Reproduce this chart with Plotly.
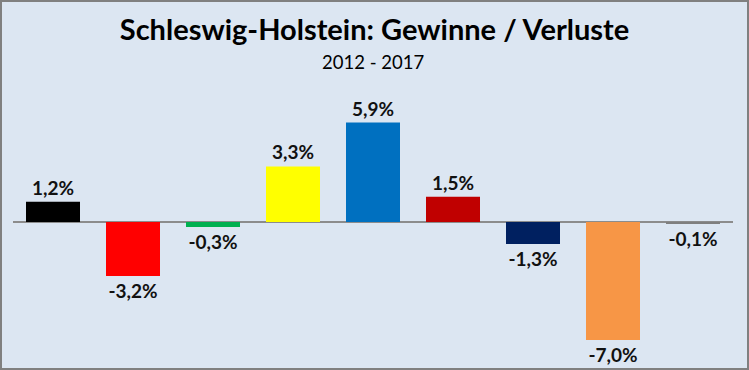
import plotly.graph_objects as go

parties = ["CDU", "SPD", "Grüne", "FDP", "AfD", "Linke", "SSW", "Piraten", "Sonstige"]
changes = [1.2, -3.2, -0.3, 3.3, 5.9, 1.5, -1.3, -7.0, -0.1]
colors = ["#000000", "#ff0000", "#00b050", "#ffff00", "#0070c0", "#c00000", "#002060", "#f79646", "#7f7f7f"]
labels = [f"{v:.1f}%".replace(".", ",") for v in changes]

W, H = 749, 370
L, R, T, B = 13, 16, 100, 12
pw, ph = W - L - R, H - T - B

fig = go.Figure(go.Bar(
    x=parties, y=changes, marker=dict(color=colors, line=dict(width=0)),
    width=0.675, text=labels, textposition="outside", constraintext="none",
    cliponaxis=False,
    textfont=dict(family="Lato", size=19, color="#111111", weight="bold"),
    hoverinfo="skip",
))

fig.update_layout(
    width=W, height=H,
    margin=dict(l=L, r=R, t=T, b=B),
    paper_bgcolor="#dce6f2", plot_bgcolor="#dce6f2",
    showlegend=False,
    title=dict(text="<b>Schleswig-Holstein: Gewinne / Verluste</b>",
               x=0.5, xanchor="center", y=1 - 30 / H, yanchor="middle",
               font=dict(family="Lato", size=29, color="#000000")),
    xaxis=dict(showticklabels=False, showgrid=False, zeroline=False,
               showline=False, ticks=""),
    yaxis=dict(range=[-8.07, 7.24], showticklabels=False, showgrid=False,
               zeroline=True, zerolinecolor="#8c8c8c", zerolinewidth=1.5,
               showline=False, ticks=""),
    annotations=[dict(text="2012 - 2017", xref="paper", yref="paper",
                      x=0.5, y=1 + (T - 62) / ph, xanchor="center", yanchor="middle",
                      showarrow=False,
                      font=dict(family="Lato", size=18.5, color="#000000"))],
    shapes=[dict(type="rect", xref="paper", yref="paper",
                 x0=(-L + 1) / pw, x1=(W - L - 1) / pw,
                 y0=(-B + 1) / ph, y1=1 + (T - 1) / ph,
                 line=dict(color="#808080", width=2), fillcolor="rgba(0,0,0,0)")],
)

fig.write_html("out.html", config={"displayModeBar": False},
               post_script="document.body.style.margin='0';document.body.style.overflow='hidden';")
